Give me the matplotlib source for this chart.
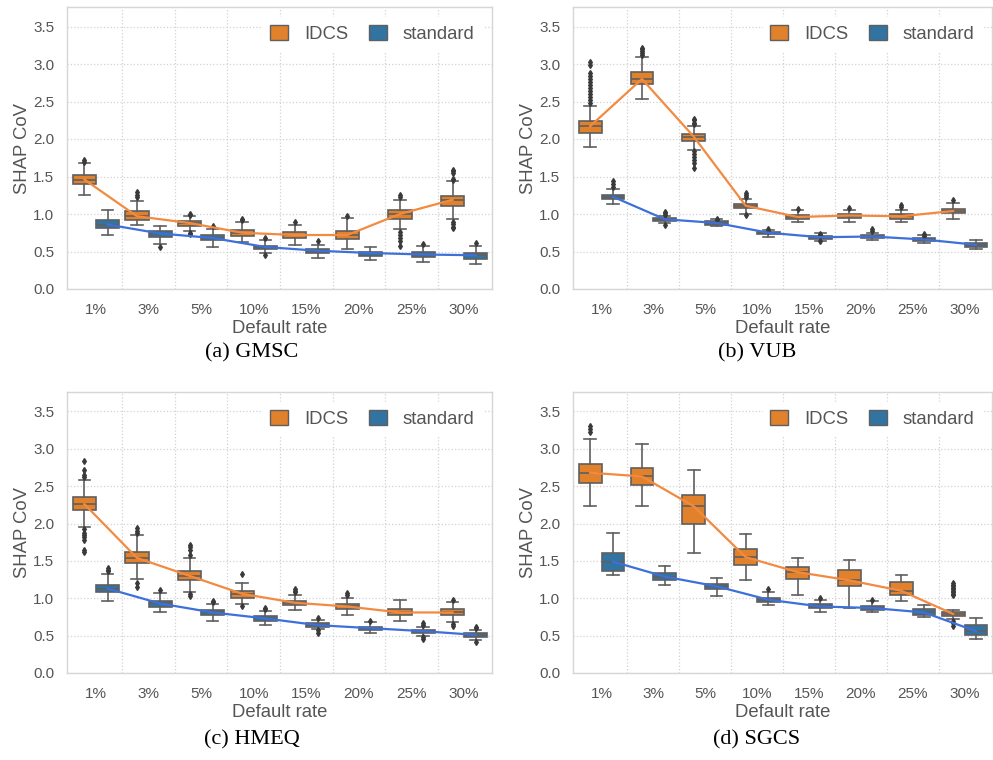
import numpy as np
import matplotlib
matplotlib.use("Agg")
import matplotlib.pyplot as plt
from matplotlib.patches import Patch

# ==========================================
# data: [whisker low, q1, median, q3, whisker high] per default rate
# ==========================================
rates = ["1%", "3%", "5%", "10%", "15%", "20%", "25%", "30%"]
panels = ["(a) GMSC", "(b) VUB", "(c) HMEQ", "(d) SGCS"]

gmsc_idcs = [[1.26, 1.40, 1.46, 1.52, 1.68], [0.85, 0.92, 0.97, 1.04, 1.18],
             [0.78, 0.84, 0.88, 0.91, 0.97], [0.63, 0.71, 0.75, 0.79, 0.89],
             [0.59, 0.68, 0.72, 0.76, 0.86], [0.53, 0.67, 0.72, 0.78, 0.95],
             [0.80, 0.94, 1.00, 1.05, 1.19], [0.93, 1.11, 1.19, 1.24, 1.44]]
gmsc_std = [[0.72, 0.81, 0.86, 0.92, 1.06], [0.60, 0.70, 0.74, 0.78, 0.84],
            [0.56, 0.65, 0.68, 0.72, 0.80], [0.48, 0.53, 0.56, 0.58, 0.65],
            [0.42, 0.48, 0.51, 0.54, 0.59], [0.39, 0.44, 0.48, 0.50, 0.56],
            [0.36, 0.43, 0.46, 0.49, 0.58], [0.33, 0.40, 0.45, 0.48, 0.57]]
gmsc_idcs_fliers = [[1.70, 1.72], [1.23, 1.26, 1.29], [1.00, 0.99, 0.75, 0.74],
                    [0.92, 0.94], [0.90], [0.98],
                    [1.23, 1.25, 0.76, 0.72, 0.68, 0.64, 0.58],
                    [1.59, 1.57, 1.55, 1.47, 1.45, 0.89, 0.87, 0.83, 0.81]]
gmsc_std_fliers = [[], [0.56], [0.835], [0.68, 0.45], [0.64], [], [0.60], [0.61]]

vub_idcs = [[1.90, 2.08, 2.17, 2.24, 2.44], [2.54, 2.74, 2.80, 2.89, 3.09],
            [1.86, 1.98, 2.03, 2.07, 2.18], [1.00, 1.08, 1.11, 1.14, 1.20],
            [0.89, 0.93, 0.96, 0.99, 1.06], [0.90, 0.95, 0.98, 1.00, 1.05],
            [0.90, 0.94, 0.97, 1.00, 1.06], [0.94, 1.01, 1.04, 1.07, 1.15]]
vub_std = [[1.14, 1.20, 1.23, 1.26, 1.34], [0.88, 0.91, 0.93, 0.95, 0.97],
           [0.84, 0.86, 0.88, 0.91, 0.94], [0.70, 0.73, 0.75, 0.76, 0.79],
           [0.64, 0.67, 0.69, 0.71, 0.75], [0.66, 0.68, 0.70, 0.72, 0.75],
           [0.62, 0.64, 0.66, 0.68, 0.72], [0.54, 0.56, 0.59, 0.61, 0.66]]
vub_idcs_fliers = [[3.03, 2.99, 2.88, 2.84, 2.80, 2.76, 2.72, 2.68, 2.64, 2.60, 2.56, 2.52, 2.48],
                   [3.12, 3.15, 3.18, 3.20, 3.22],
                   [2.20, 2.22, 2.25, 2.27, 1.84, 1.80, 1.76, 1.72, 1.68, 1.61],
                   [1.23, 1.26, 1.28, 0.99], [1.07], [1.08], [1.10, 1.12], [1.19]]
vub_std_fliers = [[1.36, 1.40, 1.44], [0.99, 1.01, 1.03, 0.86], [0.92, 0.94], [0.78, 0.80],
                  [0.72, 0.74, 0.64], [0.78, 0.80], [0.71, 0.73], []]

hmeq_idcs = [[1.96, 2.18, 2.26, 2.35, 2.58], [1.26, 1.47, 1.54, 1.62, 1.84],
             [1.08, 1.24, 1.30, 1.36, 1.54], [0.92, 1.01, 1.06, 1.10, 1.21],
             [0.84, 0.91, 0.94, 0.97, 1.04], [0.77, 0.85, 0.89, 0.92, 1.01],
             [0.70, 0.77, 0.81, 0.85, 0.98], [0.68, 0.77, 0.81, 0.85, 0.95]]
hmeq_std = [[0.96, 1.08, 1.13, 1.18, 1.33], [0.81, 0.88, 0.93, 0.97, 1.07],
            [0.70, 0.78, 0.81, 0.84, 0.92], [0.64, 0.70, 0.73, 0.76, 0.83],
            [0.59, 0.62, 0.64, 0.67, 0.71], [0.53, 0.58, 0.60, 0.62, 0.68],
            [0.50, 0.53, 0.56, 0.58, 0.61], [0.44, 0.48, 0.51, 0.53, 0.57]]
hmeq_idcs_fliers = [[2.84, 2.72, 2.65, 2.62, 1.93, 1.88, 1.85, 1.82, 1.78, 1.65, 1.62],
                    [1.87, 1.90, 1.94, 1.20, 1.15], [1.71, 1.68, 1.64, 1.58, 1.06, 1.03],
                    [1.33, 0.89], [1.08, 1.10, 1.12], [1.05, 1.07], [], [0.98, 0.65, 0.63]]
hmeq_std_fliers = [[1.36, 1.38, 1.40], [1.11], [0.95, 0.97], [0.85, 0.87],
                   [0.73, 0.57, 0.54], [0.70], [0.64, 0.67, 0.48, 0.45], [0.60, 0.61, 0.41]]

sgcs_idcs = [[2.23, 2.54, 2.68, 2.80, 3.13], [2.23, 2.51, 2.63, 2.74, 3.06],
             [1.61, 2.00, 2.23, 2.38, 2.72], [1.24, 1.44, 1.55, 1.66, 1.86],
             [1.04, 1.26, 1.35, 1.42, 1.54], [0.87, 1.16, 1.24, 1.38, 1.51],
             [0.97, 1.04, 1.10, 1.22, 1.31], [0.72, 0.76, 0.79, 0.81, 0.84]]
sgcs_std = [[1.31, 1.37, 1.49, 1.60, 1.88], [1.18, 1.25, 1.29, 1.34, 1.43],
            [1.03, 1.12, 1.16, 1.19, 1.27], [0.91, 0.95, 0.98, 1.01, 1.09],
            [0.81, 0.87, 0.89, 0.92, 0.98], [0.81, 0.84, 0.87, 0.89, 0.96],
            [0.75, 0.77, 0.81, 0.85, 0.91], [0.46, 0.51, 0.56, 0.64, 0.73]]
sgcs_idcs_fliers = [[3.31, 3.27, 3.22], [], [], [], [], [], [],
                    [1.20, 1.18, 1.16, 1.14, 1.12, 1.10, 1.08, 1.06, 1.04, 0.70, 0.67, 0.63]]
sgcs_std_fliers = [[], [], [], [1.12], [1.00], [0.98], [], []]

idcs_data = [gmsc_idcs, vub_idcs, hmeq_idcs, sgcs_idcs]
std_data = [gmsc_std, vub_std, hmeq_std, sgcs_std]
idcs_fliers = [gmsc_idcs_fliers, vub_idcs_fliers, hmeq_idcs_fliers, sgcs_idcs_fliers]
std_fliers = [gmsc_std_fliers, vub_std_fliers, hmeq_std_fliers, sgcs_std_fliers]

# ==========================================
# style
# ==========================================
plt.rcParams["font.family"] = ["Liberation Sans", "DejaVu Sans"]
c_idcs, c_std = "#e1812c", "#3274a1"
line_idcs, line_std = "#f28a40", "#3d70d8"
edge = "#5f5f5f"
txt = "#555555"

W, H = 993, 760
fig = plt.figure(figsize=(W / 100, H / 100), dpi=100)

# axes boxes in pixels: left, top, right, bottom
boxes_px = [(67, 7, 492, 289), (573, 7, 992, 289),
            (67, 392, 492, 673), (573, 392, 992, 673)]
caption_px = [(252, 353), (757, 353), (252, 740), (757, 740)]


def to_stats(rows, fliers):
    return [dict(whislo=r[0], q1=r[1], med=r[2], q3=r[3], whishi=r[4],
                 fliers=np.array(f)) for r, f in zip(rows, fliers)]


x = np.arange(len(rates))
off = 0.22
for k in range(4):
    l, t, r, b = boxes_px[k]
    ax = fig.add_axes([l / W, 1 - b / H, (r - l) / W, (b - t) / H])
    for rows, fl, pos, col in [(idcs_data[k], idcs_fliers[k], x - off, c_idcs),
                               (std_data[k], std_fliers[k], x + off, c_std)]:
        ax.bxp(to_stats(rows, fl), positions=pos, widths=0.44, patch_artist=True,
               showfliers=True, manage_ticks=False,
               boxprops=dict(facecolor=col, edgecolor=edge, linewidth=1.2),
               medianprops=dict(color=edge, linewidth=1.2),
               whiskerprops=dict(color=edge, linewidth=1.2),
               capprops=dict(color=edge, linewidth=1.2),
               flierprops=dict(marker="d", markersize=3, markerfacecolor="#3a3a3a",
                               markeredgecolor="#3a3a3a"))
    ax.plot(x - off, [row[2] for row in idcs_data[k]], color=line_idcs, lw=1.6, zorder=4)
    ax.plot(x + off, [row[2] for row in std_data[k]], color=line_std, lw=1.6, zorder=4)

    ax.set_xlim(-0.55, 7.53)
    ax.set_ylim(0, 3.76)
    ax.set_xticks(x)
    ax.set_xticklabels(rates)
    ax.set_xticks(x[:-1] + 0.5, minor=True)
    ax.set_yticks(np.arange(0, 3.6, 0.5))
    ax.set_yticklabels([f"{v:.1f}" for v in np.arange(0, 3.6, 0.5)])
    ax.tick_params(which="both", length=0, labelsize=11, labelcolor=txt)
    ax.tick_params(axis="x", pad=10)
    ax.tick_params(axis="y", pad=9)
    ax.set_axisbelow(True)
    ax.grid(axis="y", which="major", color="#d2d2d2", ls=":", lw=0.9)
    ax.grid(axis="x", which="minor", color="#d2d2d2", ls=":", lw=0.9)
    for s in ax.spines.values():
        s.set_color("#d6d6d6")
        s.set_linewidth(1.0)
    ax.set_xlabel("Default rate", fontsize=13.3, color=txt, labelpad=2)
    ax.set_ylabel("SHAP CoV", fontsize=13.3, color=txt, labelpad=2)

    handles = [Patch(facecolor=c_idcs, edgecolor=edge, label="IDCS"),
               Patch(facecolor=c_std, edgecolor=edge, label="standard")]
    leg = ax.legend(handles=handles, loc="upper right", ncol=2, fontsize=13.3,
                    frameon=True, facecolor="white", edgecolor="white", framealpha=1,
                    handlelength=1.0, handleheight=0.95, handletextpad=0.85,
                    columnspacing=1.1, borderaxespad=0.55)
    for tx in leg.get_texts():
        tx.set_color(txt)

    cx, cy = caption_px[k]
    fig.text(cx / W, 1 - cy / H, panels[k], ha="center", va="center",
             fontsize=16, family=["Liberation Serif", "DejaVu Serif"], color="black")

fig.savefig("out.png", dpi=100)
